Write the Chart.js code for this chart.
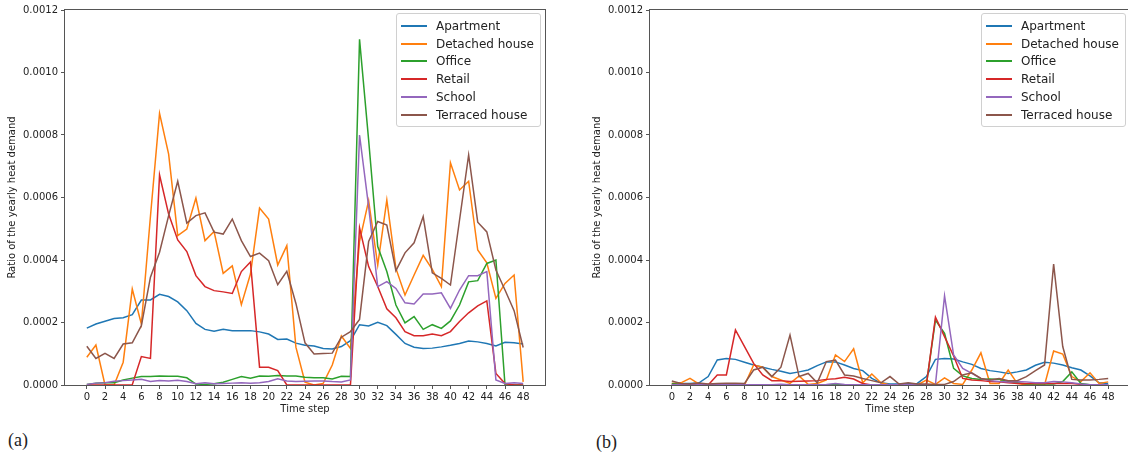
<!DOCTYPE html>
<html>
<head>
<meta charset="utf-8">
<script src="https://cdn.jsdelivr.net/npm/chart.js@4.4.1/dist/chart.umd.min.js"></script>
<style>
  body { margin: 0; width: 1128px; height: 459px; overflow: hidden; position: relative; background: #fff; font-family: "DejaVu Sans", sans-serif; }
  canvas { position: absolute; top: 0; }
  .legend { position: absolute; top: 13px; border: 1px solid #d0d0d0; border-radius: 3px; background: rgba(255,255,255,0.85);
            padding: 3px 6px 2px 4px; font-size: 12px; color: #222; }
  .legend .row { height: 17.8px; display: flex; align-items: center; white-space: nowrap; }
  .legend .swatch { width: 26px; height: 2px; margin-right: 9px; flex: none; }
  .caption { position: absolute; font-family: "Liberation Serif", serif; font-size: 18px; line-height: 20px; color: #222; }
</style>
</head>
<body>
<canvas id="chartA" width="555" height="420" style="left:0"></canvas>
<canvas id="chartB" width="555" height="420" style="left:585px"></canvas>
<div class="legend" id="legendA" style="left:396px"></div>
<div class="legend" id="legendB" style="left:981px"></div>
<div class="caption" style="left:8px;top:430px">(a)</div>
<div class="caption" style="left:596px;top:432px">(b)</div>
<script>
const timeSteps = [0,1,2,3,4,5,6,7,8,9,10,11,12,13,14,15,16,17,18,19,20,21,22,23,24,25,26,27,28,29,30,31,32,33,34,35,36,37,38,39,40,41,42,43,44,45,46,47,48];
const xTicks = [0,2,4,6,8,10,12,14,16,18,20,22,24,26,28,30,32,34,36,38,40,42,44,46,48];
const yTicks = [0, 0.0002, 0.0004, 0.0006, 0.0008, 0.0010, 0.0012];
const seriesNames = ['Apartment', 'Detached house', 'Office', 'Retail', 'School', 'Terraced house'];
const seriesColors = ['#1f77b4', '#ff7f0e', '#2ca02c', '#d62728', '#9467bd', '#8c564b'];

// panel (a)
const apartmentA = [1.82e-4,1.95e-4,2.04e-4,2.13e-4,2.15e-4,2.25e-4,2.72e-4,2.72e-4,2.90e-4,2.83e-4,
  2.66e-4,2.38e-4,1.97e-4,1.78e-4,1.72e-4,1.78e-4,1.74e-4,1.74e-4,1.74e-4,1.70e-4,
  1.63e-4,1.46e-4,1.47e-4,1.34e-4,1.27e-4,1.25e-4,1.17e-4,1.15e-4,1.23e-4,1.42e-4,
  1.93e-4,1.89e-4,2.01e-4,1.90e-4,1.62e-4,1.33e-4,1.21e-4,1.17e-4,1.18e-4,1.22e-4,
  1.27e-4,1.33e-4,1.41e-4,1.38e-4,1.33e-4,1.25e-4,1.37e-4,1.35e-4,1.31e-4];
const detachedA = [0.89e-4,1.28e-4,0,0,0.73e-4,3.07e-4,1.95e-4,5.4e-4,8.69e-4,7.39e-4,
  4.78e-4,4.99e-4,5.98e-4,4.62e-4,4.91e-4,3.57e-4,3.81e-4,2.57e-4,3.55e-4,5.66e-4,
  5.31e-4,3.84e-4,4.46e-4,1.21e-4,0.09e-4,0,0.05e-4,0.64e-4,1.57e-4,1.17e-4,
  4.6e-4,5.9e-4,3.84e-4,5.92e-4,3.73e-4,2.88e-4,3.52e-4,4.15e-4,3.70e-4,3.15e-4,
  7.11e-4,6.24e-4,6.52e-4,4.32e-4,3.91e-4,2.77e-4,3.25e-4,3.52e-4,0.1e-4];
const officeA = [0.02e-4,0.06e-4,0.07e-4,0.07e-4,0.16e-4,0.22e-4,0.27e-4,0.27e-4,0.29e-4,0.28e-4,
  0.28e-4,0.23e-4,0.03e-4,0.02e-4,0.04e-4,0.09e-4,0.18e-4,0.27e-4,0.22e-4,0.29e-4,
  0.28e-4,0.30e-4,0.29e-4,0.29e-4,0.25e-4,0.23e-4,0.23e-4,0.19e-4,0.28e-4,0.27e-4,
  11.06e-4,7.84e-4,4.43e-4,3.63e-4,2.56e-4,1.99e-4,2.19e-4,1.78e-4,1.93e-4,1.81e-4,
  2.05e-4,2.56e-4,3.30e-4,3.34e-4,3.89e-4,4.0e-4,0,0,0];
const retailA = [0,0,0,0,0,0.01e-4,0.91e-4,0.85e-4,6.72e-4,5.47e-4,
  4.64e-4,4.27e-4,3.50e-4,3.15e-4,3.02e-4,2.98e-4,2.93e-4,3.63e-4,3.94e-4,0.57e-4,
  0.57e-4,0.46e-4,0,0,0,0,0,0,0,0,
  5.03e-4,3.79e-4,3.15e-4,2.44e-4,2.15e-4,1.71e-4,1.58e-4,1.58e-4,1.63e-4,1.58e-4,
  1.71e-4,2.03e-4,2.31e-4,2.53e-4,2.69e-4,0.37e-4,0.05e-4,0,0];
const schoolA = [0.02e-4,0.06e-4,0.07e-4,0.12e-4,0.14e-4,0.16e-4,0.18e-4,0.11e-4,0.14e-4,0.13e-4,
  0.15e-4,0.11e-4,0.04e-4,0.07e-4,0.04e-4,0.05e-4,0.06e-4,0.07e-4,0.06e-4,0.07e-4,
  0.11e-4,0.20e-4,0.13e-4,0.11e-4,0.12e-4,0.13e-4,0.13e-4,0.11e-4,0.10e-4,0.16e-4,
  8.0e-4,5.71e-4,3.15e-4,3.31e-4,3.09e-4,2.63e-4,2.59e-4,2.91e-4,2.91e-4,2.95e-4,
  2.45e-4,3.04e-4,3.50e-4,3.50e-4,3.63e-4,0.16e-4,0.05e-4,0.07e-4,0.05e-4];
const terracedA = [1.24e-4,0.85e-4,1.01e-4,0.85e-4,1.31e-4,1.35e-4,1.90e-4,3.45e-4,4.25e-4,5.42e-4,
  6.52e-4,5.18e-4,5.42e-4,5.51e-4,4.89e-4,4.83e-4,5.31e-4,4.62e-4,4.11e-4,4.22e-4,
  3.98e-4,3.21e-4,3.64e-4,2.61e-4,1.35e-4,0.99e-4,1.01e-4,1.02e-4,1.53e-4,1.71e-4,
  2.10e-4,4.59e-4,5.23e-4,5.12e-4,3.66e-4,4.23e-4,4.55e-4,5.39e-4,3.59e-4,3.41e-4,
  3.20e-4,5.28e-4,7.36e-4,5.21e-4,4.90e-4,3.68e-4,3.04e-4,2.38e-4,1.2e-4];

// panel (b)
const apartmentB = [0.02e-4,0.05e-4,0.05e-4,0.07e-4,0.27e-4,0.80e-4,0.85e-4,0.82e-4,0.73e-4,0.64e-4,
  0.57e-4,0.50e-4,0.44e-4,0.37e-4,0.42e-4,0.48e-4,0.62e-4,0.74e-4,0.74e-4,0.64e-4,
  0.53e-4,0.46e-4,0.21e-4,0.07e-4,0.03e-4,0.03e-4,0.04e-4,0.05e-4,0.27e-4,0.82e-4,
  0.85e-4,0.83e-4,0.74e-4,0.66e-4,0.53e-4,0.46e-4,0.42e-4,0.37e-4,0.42e-4,0.48e-4,
  0.63e-4,0.73e-4,0.70e-4,0.64e-4,0.55e-4,0.48e-4,0.29e-4,0.07e-4,0.05e-4];
const detachedB = [0.05e-4,0.07e-4,0.21e-4,0.03e-4,0.02e-4,0,0,0,0,0.64e-4,
  0.57e-4,0.27e-4,0.16e-4,0.05e-4,0.29e-4,0.02e-4,0.05e-4,0.16e-4,0.96e-4,0.75e-4,
  1.16e-4,0.07e-4,0.35e-4,0.07e-4,0,0,0,0,0.16e-4,0.02e-4,
  0.23e-4,0.05e-4,0.02e-4,0.48e-4,1.03e-4,0.05e-4,0.05e-4,0.48e-4,0.05e-4,0,
  0,0,1.09e-4,0.99e-4,0.27e-4,0.11e-4,0.39e-4,0.05e-4,0.10e-4];
const officeB = [0.05e-4,0.02e-4,0.01e-4,0.01e-4,0.01e-4,0.01e-4,0.01e-4,0.01e-4,0.01e-4,0.01e-4,
  0.01e-4,0.01e-4,0.01e-4,0.01e-4,0.01e-4,0.01e-4,0.01e-4,0.01e-4,0.01e-4,0.01e-4,
  0.01e-4,0.01e-4,0.01e-4,0.01e-4,0.01e-4,0.01e-4,0.01e-4,0.01e-4,0.01e-4,2.08e-4,
  1.65e-4,0.53e-4,0.29e-4,0.21e-4,0.18e-4,0.19e-4,0.18e-4,0.11e-4,0.07e-4,0.03e-4,
  0.03e-4,0.03e-4,0.03e-4,0.11e-4,0.42e-4,0.05e-4,0.01e-4,0.01e-4,0.01e-4];
const retailB = [0.02e-4,0.01e-4,0.01e-4,0.01e-4,0,0.32e-4,0.32e-4,1.76e-4,1.23e-4,0.69e-4,
  0.32e-4,0.14e-4,0.14e-4,0.11e-4,0.12e-4,0.13e-4,0.14e-4,0.18e-4,0.20e-4,0.25e-4,
  0.19e-4,0.05e-4,0,0,0,0,0,0,0,2.17e-4,
  1.55e-4,0.93e-4,0.21e-4,0.16e-4,0.14e-4,0.11e-4,0.10e-4,0.07e-4,0.05e-4,0.05e-4,
  0.05e-4,0.05e-4,0.05e-4,0.05e-4,0.05e-4,0.02e-4,0,0,0];
const schoolB = [0.01e-4,0.01e-4,0.01e-4,0.01e-4,0.01e-4,0.01e-4,0.01e-4,0.01e-4,0.01e-4,0.01e-4,
  0.01e-4,0.01e-4,0.02e-4,0.01e-4,0.01e-4,0.01e-4,0.01e-4,0.02e-4,0.05e-4,0.02e-4,
  0.01e-4,0.01e-4,0.01e-4,0.01e-4,0.01e-4,0.01e-4,0.01e-4,0.01e-4,0.01e-4,0.02e-4,
  2.85e-4,0.96e-4,0.53e-4,0.37e-4,0.21e-4,0.14e-4,0.11e-4,0.10e-4,0.11e-4,0.10e-4,
  0.07e-4,0.07e-4,0.11e-4,0.10e-4,0.07e-4,0.03e-4,0.01e-4,0.01e-4,0.01e-4];
const terracedB = [0.13e-4,0.05e-4,0.03e-4,0.06e-4,0.03e-4,0.05e-4,0.06e-4,0.06e-4,0.05e-4,0.48e-4,
  0.57e-4,0.27e-4,0.57e-4,1.60e-4,0.27e-4,0.37e-4,0.07e-4,0.75e-4,0.80e-4,0.32e-4,
  0.29e-4,0.21e-4,0.14e-4,0.07e-4,0.27e-4,0.03e-4,0.07e-4,0.03e-4,0.03e-4,0.02e-4,
  0.02e-4,0.11e-4,0.32e-4,0.39e-4,0.21e-4,0.16e-4,0.21e-4,0.14e-4,0.14e-4,0.27e-4,
  0.46e-4,0.64e-4,3.87e-4,1.23e-4,0.18e-4,0.16e-4,0.16e-4,0.18e-4,0.21e-4];

const panelA = [apartmentA, detachedA, officeA, retailA, schoolA, terracedA];
const panelB = [apartmentB, detachedB, officeB, retailB, schoolB, terracedB];

const tickFont = { family: 'DejaVu Sans', size: 10 };
const textColor = '#222';
const axisColor = '#555';

// box round the plot area, drawn over the lines like matplotlib spines
const framePlugin = {
  id: 'frame',
  afterDatasetsDraw(chart) {
    const { ctx, chartArea: a } = chart;
    ctx.save();
    ctx.strokeStyle = axisColor;
    ctx.lineWidth = 1;
    ctx.strokeRect(a.left - 0.5, a.top - 0.5, a.right - a.left + 1, a.bottom - a.top + 1);
    ctx.restore();
  }
};

function makeChart(id, series) {
  const datasets = series.map((vals, k) => ({
    label: seriesNames[k],
    data: vals.map((v, i) => ({ x: timeSteps[i], y: v })),
    borderColor: seriesColors[k],
    backgroundColor: seriesColors[k],
    borderWidth: 1.5,
    pointRadius: 0,
    tension: 0,
    order: series.length - k
  }));
  return new Chart(document.getElementById(id), {
    type: 'line',
    data: { datasets },
    plugins: [framePlugin],
    options: {
      responsive: false,
      animation: false,
      layout: { padding: { top: 10, right: 10, left: 0, bottom: 0 } },
      plugins: { legend: { display: false }, tooltip: { enabled: false } },
      scales: {
        x: {
          type: 'linear', min: -2.4, max: 50.4, bounds: 'data',
          afterBuildTicks: s => { s.ticks = xTicks.map(v => ({ value: v })); },
          afterFit: s => { s.height = 35; },
          ticks: { autoSkip: false, maxRotation: 0, padding: 2, font: tickFont, color: textColor, callback: v => String(v) },
          grid: { drawOnChartArea: false, tickLength: 4, color: axisColor },
          border: { display: false },
          title: { display: true, text: 'Time step', font: tickFont, color: textColor, padding: { top: 0, bottom: 5 } }
        },
        y: {
          min: 0, max: 0.0012, bounds: 'data',
          afterBuildTicks: s => { s.ticks = yTicks.map(v => ({ value: v })); },
          afterFit: s => { s.width = 65; },
          ticks: { padding: 3, font: tickFont, color: textColor, callback: v => v.toFixed(4) },
          grid: { drawOnChartArea: false, tickLength: 4, color: axisColor },
          border: { display: false },
          title: { display: true, text: 'Ratio of the yearly heat demand', font: tickFont, color: textColor, padding: { top: 6, bottom: 0 } }
        }
      }
    }
  });
}

function makeLegend(id) {
  const box = document.getElementById(id);
  seriesNames.forEach((name, k) => {
    const row = document.createElement('div');
    row.className = 'row';
    const swatch = document.createElement('span');
    swatch.className = 'swatch';
    swatch.style.background = seriesColors[k];
    const label = document.createElement('span');
    label.textContent = name;
    row.appendChild(swatch);
    row.appendChild(label);
    box.appendChild(row);
  });
}

makeChart('chartA', panelA);
makeChart('chartB', panelB);
makeLegend('legendA');
makeLegend('legendB');
</script>
</body>
</html>
